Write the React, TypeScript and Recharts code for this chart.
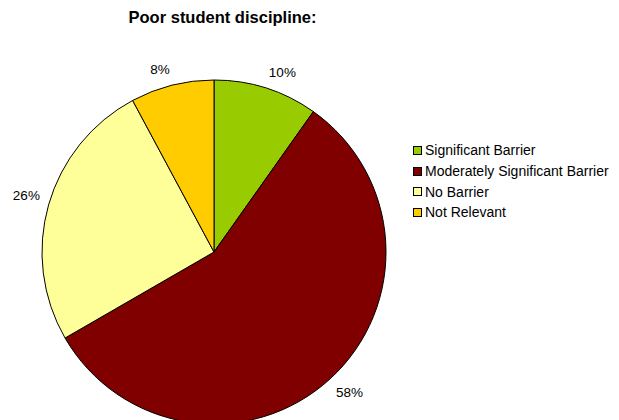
import { Cell, Legend, Pie, PieChart } from "recharts";

const categories = ["Significant Barrier", "Moderately Significant Barrier", "No Barrier", "Not Relevant"];
const shares = [10, 58, 26, 8];
const colors = ["#99CC00", "#800000", "#FFFF99", "#FFCC00"];

const data = categories.map((name, i) => ({ name, value: shares[i] }));

const RAD = Math.PI / 180;
const font = "Arial, 'Liberation Sans', sans-serif";

// label box corner sits just outside the slice, like Excel does it
const renderLabel = ({ cx, cy, midAngle, outerRadius, value }: any) => {
  const r = outerRadius + 9;
  const cos = Math.cos(-midAngle * RAD);
  const sin = Math.sin(-midAngle * RAD);
  const x = cx + r * cos;
  const y = cy + r * sin + (sin > 0 ? 7 : -7);
  return (
    <text x={x} y={y} textAnchor={cos >= 0 ? "start" : "end"} dominantBaseline="central" fill="#000" fontSize={13.5} fontFamily={font}>
      {value}%
    </text>
  );
};

const LegendBox = () => (
  <div style={{ fontFamily: font, fontSize: 14, color: "#000" }}>
    {categories.map((name, i) => (
      <div key={name} style={{ display: "flex", alignItems: "center", height: 20.7 }}>
        <span style={{ width: 7, height: 7, border: "1px solid #000", background: colors[i], marginRight: 3, display: "inline-block" }} />
        <span>{name}</span>
      </div>
    ))}
  </div>
);

export default function App() {
  return (
    <div style={{ position: "absolute", left: 0, top: 0, width: 619, height: 420, background: "#fff" }}>
      <div
        style={{
          position: "absolute",
          left: 0,
          width: 445,
          top: 8,
          textAlign: "center",
          fontFamily: font,
          fontWeight: 700,
          fontSize: 16.5,
          color: "#000",
        }}
      >
        Poor student discipline:
      </div>
      <PieChart width={619} height={420} margin={{ top: 0, right: 0, bottom: 0, left: 0 }}>
        <Pie
          data={data}
          dataKey="value"
          nameKey="name"
          cx={214}
          cy={252}
          outerRadius={172}
          startAngle={90}
          endAngle={-270}
          stroke="#000"
          strokeWidth={1}
          label={renderLabel}
          labelLine={false}
          isAnimationActive={false}
        >
          {data.map((d, i) => (
            <Cell key={d.name} fill={colors[i]} />
          ))}
        </Pie>
        <Legend
          layout="vertical"
          content={<LegendBox />}
          wrapperStyle={{ position: "absolute", left: 413, top: 140, width: 206 }}
        />
      </PieChart>
    </div>
  );
}
